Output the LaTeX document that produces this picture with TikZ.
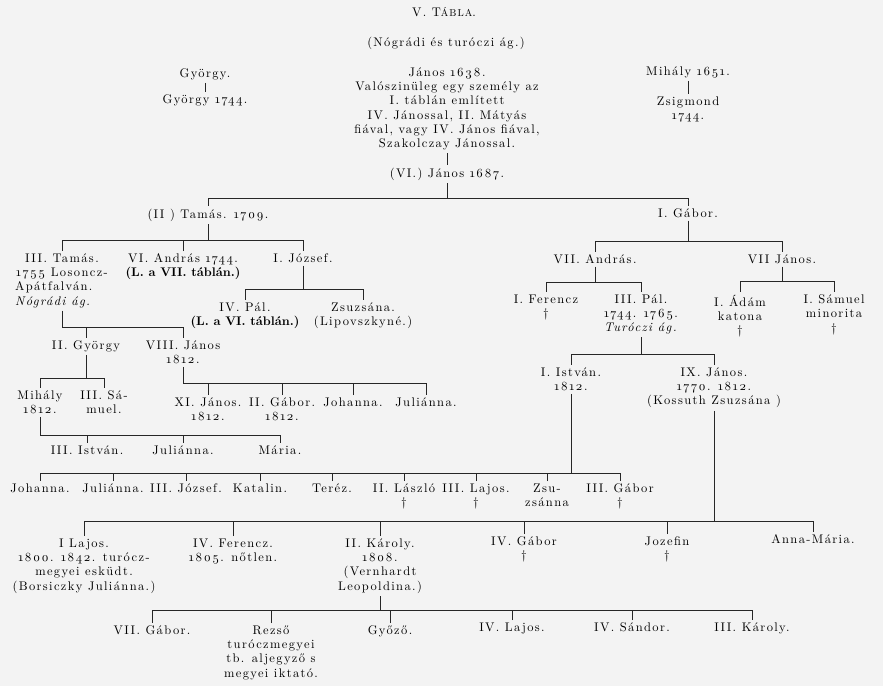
\documentclass[tikz,border=0pt]{standalone}
\usepackage{fontspec}
\setmainfont{lmroman10-regular.otf}[
  LetterSpace=11, Numbers=OldStyle,
  BoldFont=lmroman10-bold.otf, BoldFeatures={LetterSpace=0},
  ItalicFont=lmroman10-italic.otf]
\begin{document}
\begin{tikzpicture}[x=0.8pt, y=-0.8pt, font=\fontsize{10}{11.4}\selectfont,
	person/.style={anchor=north, align=center, inner sep=2pt},
	linie/.style={line width=0.7pt, draw=black!85}]
	% Farben
	\definecolor{papier}{RGB}{243, 243, 243}
	
	% Hintergrund
	\useasboundingbox (0,0) rectangle (883,686);
	\fill[papier] (0,0) rectangle (883,686);
	
	% Eltern -> Querbalken -> erstes/letztes Kind
	\def\familie#1#2#3#4{%
		\draw[linie] (#1.south) -- (#1.south |- 0,#2) -- (#3.north |- 0,#2) -- (#3.north);
		\draw[linie] (#3.north |- 0,#2) -- (#4.north |- 0,#2) -- (#4.north);}
	\def\kind#1#2{\draw[linie] (#1.north) -- (#1.north |- 0,#2);}
	
	% Überschrift
	\node[person] (titel) at (444,5) {V. T{\footnotesize ÁBLA}.};
	\node[person] (untertitel) at (446,34) {(Nógrádi és turóczi ág.)};
	
	% Kopfzeile
	\node[person] (gyoergy1) at (205,66) {György.};
	\node[person] (gyoergy2) at (205,92) {György 1744.};
	\node[person] (janos1638) at (447,65) {János 1638.\\Valószinüleg egy személy az\\I. táblán említett\\IV. Jánossal, II. Mátyás\\fiával, vagy IV. János fiával,\\Szakolczay Jánossal.};
	\node[person] (janos1687) at (447,165) {(VI.) János 1687.};
	\node[person] (mihaly1651) at (688,64) {Mihály 1651.};
	\node[person] (zsigmond) at (688,94) {Zsigmond\\1744.};
	
	% Nógrádi ág (Tamás)
	\node[person] (tamas1709) at (208,206) {(II ) Tamás. 1709.};
	\node[person] (tamas3) at (62,251) {III. Tamás.\\1755 Losoncz-\\\makebox[75pt][l]{Apátfalván.}\\\makebox[75pt][l]{\textit{Nógrádi ág.}}};
	\node[person] (andras6) at (183,251) {VI. András 1744.\\\textbf{(L. a VII. táblán.)}};
	\node[person] (jozsef1) at (303,251) {I. József.};
	\node[person] (pal4) at (245,300) {IV. Pál.\\\textbf{(L. a VI. táblán.)}};
	\node[person] (zsuzsana) at (363,300) {Zsuzsána.\\(Lipovszkyné.)};
	\node[person] (gyoergy3) at (86,338) {II. György};
	\node[person] (janos8) at (183,338) {VIII. János\\1812.};
	\node[person] (mihaly) at (40,388) {Mihály\\1812.};
	\node[person] (samuel3) at (104,388) {III. Sá-\\muel.};
	\node[person] (janos11) at (208,395) {XI. János.\\1812.};
	\node[person] (gabor2) at (282,395) {II. Gábor.\\1812.};
	\node[person] (johanna1) at (353,395) {Johanna.};
	\node[person] (julianna1) at (426,395) {Juliánna.};
	\node[person] (istvan3) at (87,443) {III. István.};
	\node[person] (julianna2) at (183,443) {Juliánna.};
	\node[person] (maria) at (280,443) {Mária.};
	
	% Turóczi ág (Gábor)
	\node[person] (gabor1) at (688,206) {I. Gábor.};
	\node[person] (andras7) at (595,252) {VII. András.};
	\node[person] (janos7) at (782,252) {VII János.};
	\node[person] (ferencz1) at (546,292) {I. Ferencz\\†};
	\node[person] (pal3) at (641,292) {III. Pál.\\1744. 1765.\\\textit{Turóczi ág.}};
	\node[person] (adam) at (740,292) {I. Ádám\\katona\\†};
	\node[person] (samuel1) at (834,292) {I. Sámuel\\minorita\\†};
	\node[person] (istvan1) at (571,365) {I. István.\\1812.};
	\node[person] (janos9) at (714,365) {IX. János.\\1770. 1812.\\(Kossuth Zsuzsána )};
	
	% Kinder von I. István
	\node[person] (johanna2) at (40,481) {Johanna.};
	\node[person] (julianna3) at (113,481) {Juliánna.};
	\node[person] (jozsef3) at (186,481) {III. József.};
	\node[person] (katalin) at (260,481) {Katalin.};
	\node[person] (terez) at (332,481) {Teréz.};
	\node[person] (laszlo2) at (404,481) {II. László\\†};
	\node[person] (lajos3) at (476,481) {III. Lajos.\\†};
	\node[person] (zsuzsanna) at (547,481) {Zsu-\\zsánna};
	\node[person] (gabor3) at (620,481) {III. Gábor\\†};
	
	% Kinder von IX. János
	\node[person] (lajos1) at (84,536) {I Lajos.\\1800. 1842. turócz-\\megyei esküdt.\\(Borsiczky Juliánna.)};
	\node[person] (ferencz4) at (233,536) {IV. Ferencz.\\1805. nőtlen.};
	\node[person] (karoly2) at (380,536) {II. Károly.\\1808.\\(Vernhardt\\Leopoldina.)};
	\node[person] (gabor4) at (524,534) {IV. Gábor\\†};
	\node[person] (jozefin) at (667,534) {Jozefin\\†};
	\node[person] (annamaria) at (813,532) {Anna-Mária.};
	
	% Kinder von II. Károly
	\node[person] (gabor7) at (152,623) {VII. Gábor.};
	\node[person] (rezso) at (271,623) {Rezső\\turóczmegyei\\tb. aljegyző s\\megyei iktató.};
	\node[person] (gyozo) at (390,623) {Győző.};
	\node[person] (lajos4) at (512,620) {IV. Lajos.};
	\node[person] (sandor4) at (632,620) {IV. Sándor.};
	\node[person] (karoly3) at (752,620) {III. Károly.};
	
	% Verbindungen
	\draw[linie] (gyoergy1) -- (gyoergy2);
	\draw[linie] (mihaly1651) -- (zsigmond);
	\draw[linie] (janos1638) -- (janos1687);
	\familie{janos1687}{198}{tamas1709}{gabor1}
	\familie{tamas1709}{240}{tamas3}{jozsef1} \kind{andras6}{240}
	\familie{jozsef1}{289}{pal4}{zsuzsana}
	\familie{tamas3}{327}{gyoergy3}{janos8}
	\familie{gyoergy3}{378}{mihaly}{samuel3}
	\familie{janos8}{383}{janos11}{julianna1} \kind{gabor2}{383} \kind{johanna1}{383}
	\familie{mihaly}{435}{istvan3}{maria} \kind{julianna2}{435}
	\familie{gabor1}{241}{andras7}{janos7}
	\familie{andras7}{282}{ferencz1}{pal3}
	\familie{janos7}{281}{adam}{samuel1}
	\familie{pal3}{354}{istvan1}{janos9}
	\familie{istvan1}{473}{johanna2}{gabor3}
	\foreach \k in {julianna3,jozsef3,katalin,terez,laszlo2,lajos3,zsuzsanna} \kind{\k}{473};
	\familie{janos9}{521}{lajos1}{annamaria}
	\foreach \k in {ferencz4,karoly2,gabor4,jozefin} \kind{\k}{521};
	\familie{karoly2}{610}{gabor7}{karoly3}
	\foreach \k in {rezso,gyozo,lajos4,sandor4} \kind{\k}{610};
\end{tikzpicture}
\end{document}
